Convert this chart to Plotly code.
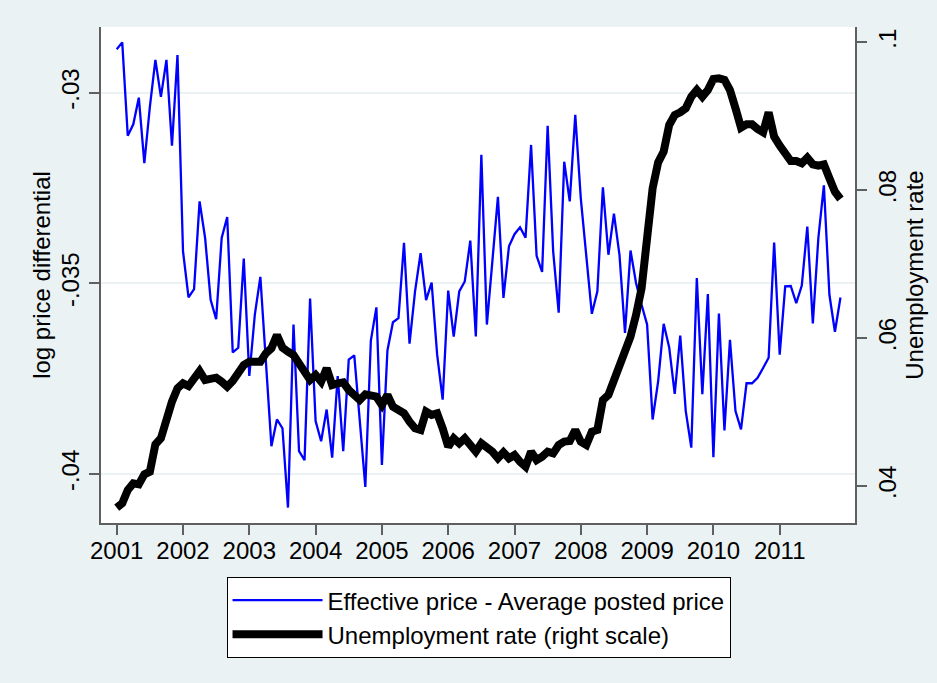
import plotly.graph_objects as go

# Monthly observations, January 2001 to December 2011
start_year = 2001
n_months = 132
months = [start_year + m / 12 for m in range(n_months)]

# Effective price minus average posted price (log differential)
price_gap = [
    -0.02886, -0.02868, -0.03113, -0.03083, -0.03013, -0.03185, -0.03037, -0.02914, -0.03011, -0.02914, -0.03139, -0.02901,
    -0.03416, -0.03537, -0.03515, -0.03285, -0.03381, -0.03543, -0.03594, -0.03381, -0.03326, -0.03681, -0.03669, -0.03435,
    -0.03743, -0.03582, -0.03483, -0.03695, -0.03927, -0.03857, -0.03880, -0.04088, -0.03608, -0.03940, -0.03964, -0.03540,
    -0.03861, -0.03914, -0.03831, -0.03957, -0.03743, -0.03940, -0.03700, -0.03689, -0.03861, -0.04034, -0.03650, -0.03563,
    -0.03976, -0.03676, -0.03602, -0.03591, -0.03394, -0.03658, -0.03521, -0.03421, -0.03544, -0.03498, -0.03687, -0.03805,
    -0.03519, -0.03640, -0.03521, -0.03495, -0.03388, -0.03639, -0.03163, -0.03608, -0.03441, -0.03273, -0.03538, -0.03403,
    -0.03371, -0.03353, -0.03380, -0.03137, -0.03428, -0.03470, -0.03087, -0.03416, -0.03577, -0.03181, -0.03285, -0.03058,
    -0.03277, -0.03425, -0.03580, -0.03521, -0.03248, -0.03425, -0.03317, -0.03425, -0.03630, -0.03414, -0.03499, -0.03556,
    -0.03608, -0.03857, -0.03757, -0.03606, -0.03668, -0.03790, -0.03637, -0.03835, -0.03931, -0.03486, -0.03791, -0.03528,
    -0.03956, -0.03579, -0.03886, -0.03648, -0.03835, -0.03883, -0.03762, -0.03762, -0.03748, -0.03722, -0.03695, -0.03393,
    -0.03687, -0.03508, -0.03507, -0.03552, -0.03506, -0.03351, -0.03605, -0.03381, -0.03243, -0.03530, -0.03627, -0.03537,
]

# Unemployment rate (right scale)
unemployment = [
    0.03707, 0.03766, 0.03946, 0.04036, 0.04023, 0.04158, 0.04194, 0.04564, 0.04645, 0.04938, 0.05141, 0.05321,
    0.05388, 0.05352, 0.05465, 0.05555, 0.05434, 0.05456, 0.05465, 0.05411, 0.05344, 0.05420, 0.05546, 0.05637,
    0.05682, 0.05691, 0.05682, 0.05794, 0.05862, 0.06042, 0.05871, 0.05817, 0.05772, 0.05659, 0.05546, 0.05434,
    0.05501, 0.05411, 0.05591, 0.05366, 0.05388, 0.05402, 0.05299, 0.05240, 0.05163, 0.05240, 0.05231, 0.05208,
    0.05096, 0.05231, 0.05073, 0.05028, 0.04983, 0.04870, 0.04780, 0.04758, 0.05006, 0.04961, 0.04983, 0.04780,
    0.04532, 0.04645, 0.04577, 0.04645, 0.04532, 0.04465, 0.04577, 0.04532, 0.04465, 0.04375, 0.04456, 0.04375,
    0.04420, 0.04329, 0.04262, 0.04465, 0.04352, 0.04397, 0.04465, 0.04442, 0.04555, 0.04600, 0.04609, 0.04758,
    0.04600, 0.04555, 0.04735, 0.04758, 0.05163, 0.05231, 0.05411, 0.05659, 0.05772, 0.06020, 0.06313, 0.06673,
    0.07350, 0.08026, 0.08377, 0.08522, 0.08882, 0.09017, 0.09053, 0.09108, 0.09265, 0.09355, 0.09265, 0.09355,
    0.09504, 0.09513, 0.09491, 0.09355, 0.09108, 0.08846, 0.08891, 0.08891, 0.08828, 0.08783, 0.09053, 0.08724,
    0.08603, 0.08499, 0.08395, 0.08395, 0.08364, 0.08440, 0.08350, 0.08332, 0.08350, 0.08161, 0.07980, 0.07881,
]

year_ticks = list(range(2001, 2012))
left_ticks = [-0.04, -0.035, -0.03]
left_tick_text = ["-.04", "-.035", "-.03"]
right_ticks = [0.04, 0.06, 0.08, 0.1]
right_tick_text = [".04", ".06", ".08", ".1"]

FONT = "Liberation Sans, Arial, sans-serif"
BG = "#EAF2F3"
AXIS = "#5F5F5F"

fig = go.Figure()
fig.add_trace(go.Scatter(
    x=months, y=price_gap, mode="lines",
    name="Effective price - Average posted price",
    line=dict(color="#0000FF", width=2.3),
))
fig.add_trace(go.Scatter(
    x=months, y=unemployment, mode="lines", yaxis="y2",
    name="Unemployment rate (right scale)",
    line=dict(color="#000000", width=8),
))

fig.update_layout(
    width=937, height=683,
    paper_bgcolor=BG, plot_bgcolor="white",
    margin=dict(l=101, r=82, t=27, b=160),
    font=dict(family=FONT, size=24, color="black"),
    xaxis=dict(
        range=[2000.763, 2012.136], tickmode="array", tickvals=year_ticks,
        ticktext=[str(y) for y in year_ticks],
        showgrid=False, zeroline=False, showline=True, linecolor=AXIS, linewidth=2,
        ticks="outside", ticklen=10, tickwidth=1.5, tickcolor=AXIS,
        tickfont=dict(size=24), ticklabelstandoff=-5,
    ),
    yaxis=dict(
        range=[-0.041285, -0.028277], tickmode="array", tickvals=left_ticks,
        ticktext=left_tick_text, tickangle=-90,
        showgrid=True, gridcolor=BG, gridwidth=2, zeroline=False,
        showline=True, linecolor=AXIS, linewidth=2,
        ticks="outside", ticklen=10, tickwidth=1.5, tickcolor=AXIS,
        tickfont=dict(size=24),
        title=dict(text="log price differential", font=dict(size=24), standoff=0),
    ),
    yaxis2=dict(
        range=[0.035, 0.10207], overlaying="y", side="right",
        tickmode="array", tickvals=right_ticks, ticktext=right_tick_text, tickangle=-90,
        showgrid=False, zeroline=False, showline=True, linecolor=AXIS, linewidth=2,
        ticks="outside", ticklen=10, tickwidth=1.5, tickcolor=AXIS,
        tickfont=dict(size=24),
        title=dict(text="Unemployment rate", font=dict(size=24), standoff=2),
    ),
    legend=dict(
        x=0.5007, y=-0.109, xanchor="center", yanchor="top",
        bgcolor="white", bordercolor="black", borderwidth=1,
        font=dict(size=24), itemwidth=90, tracegroupgap=0,
    ),
    showlegend=True,
)

fig.write_html("out.html")
